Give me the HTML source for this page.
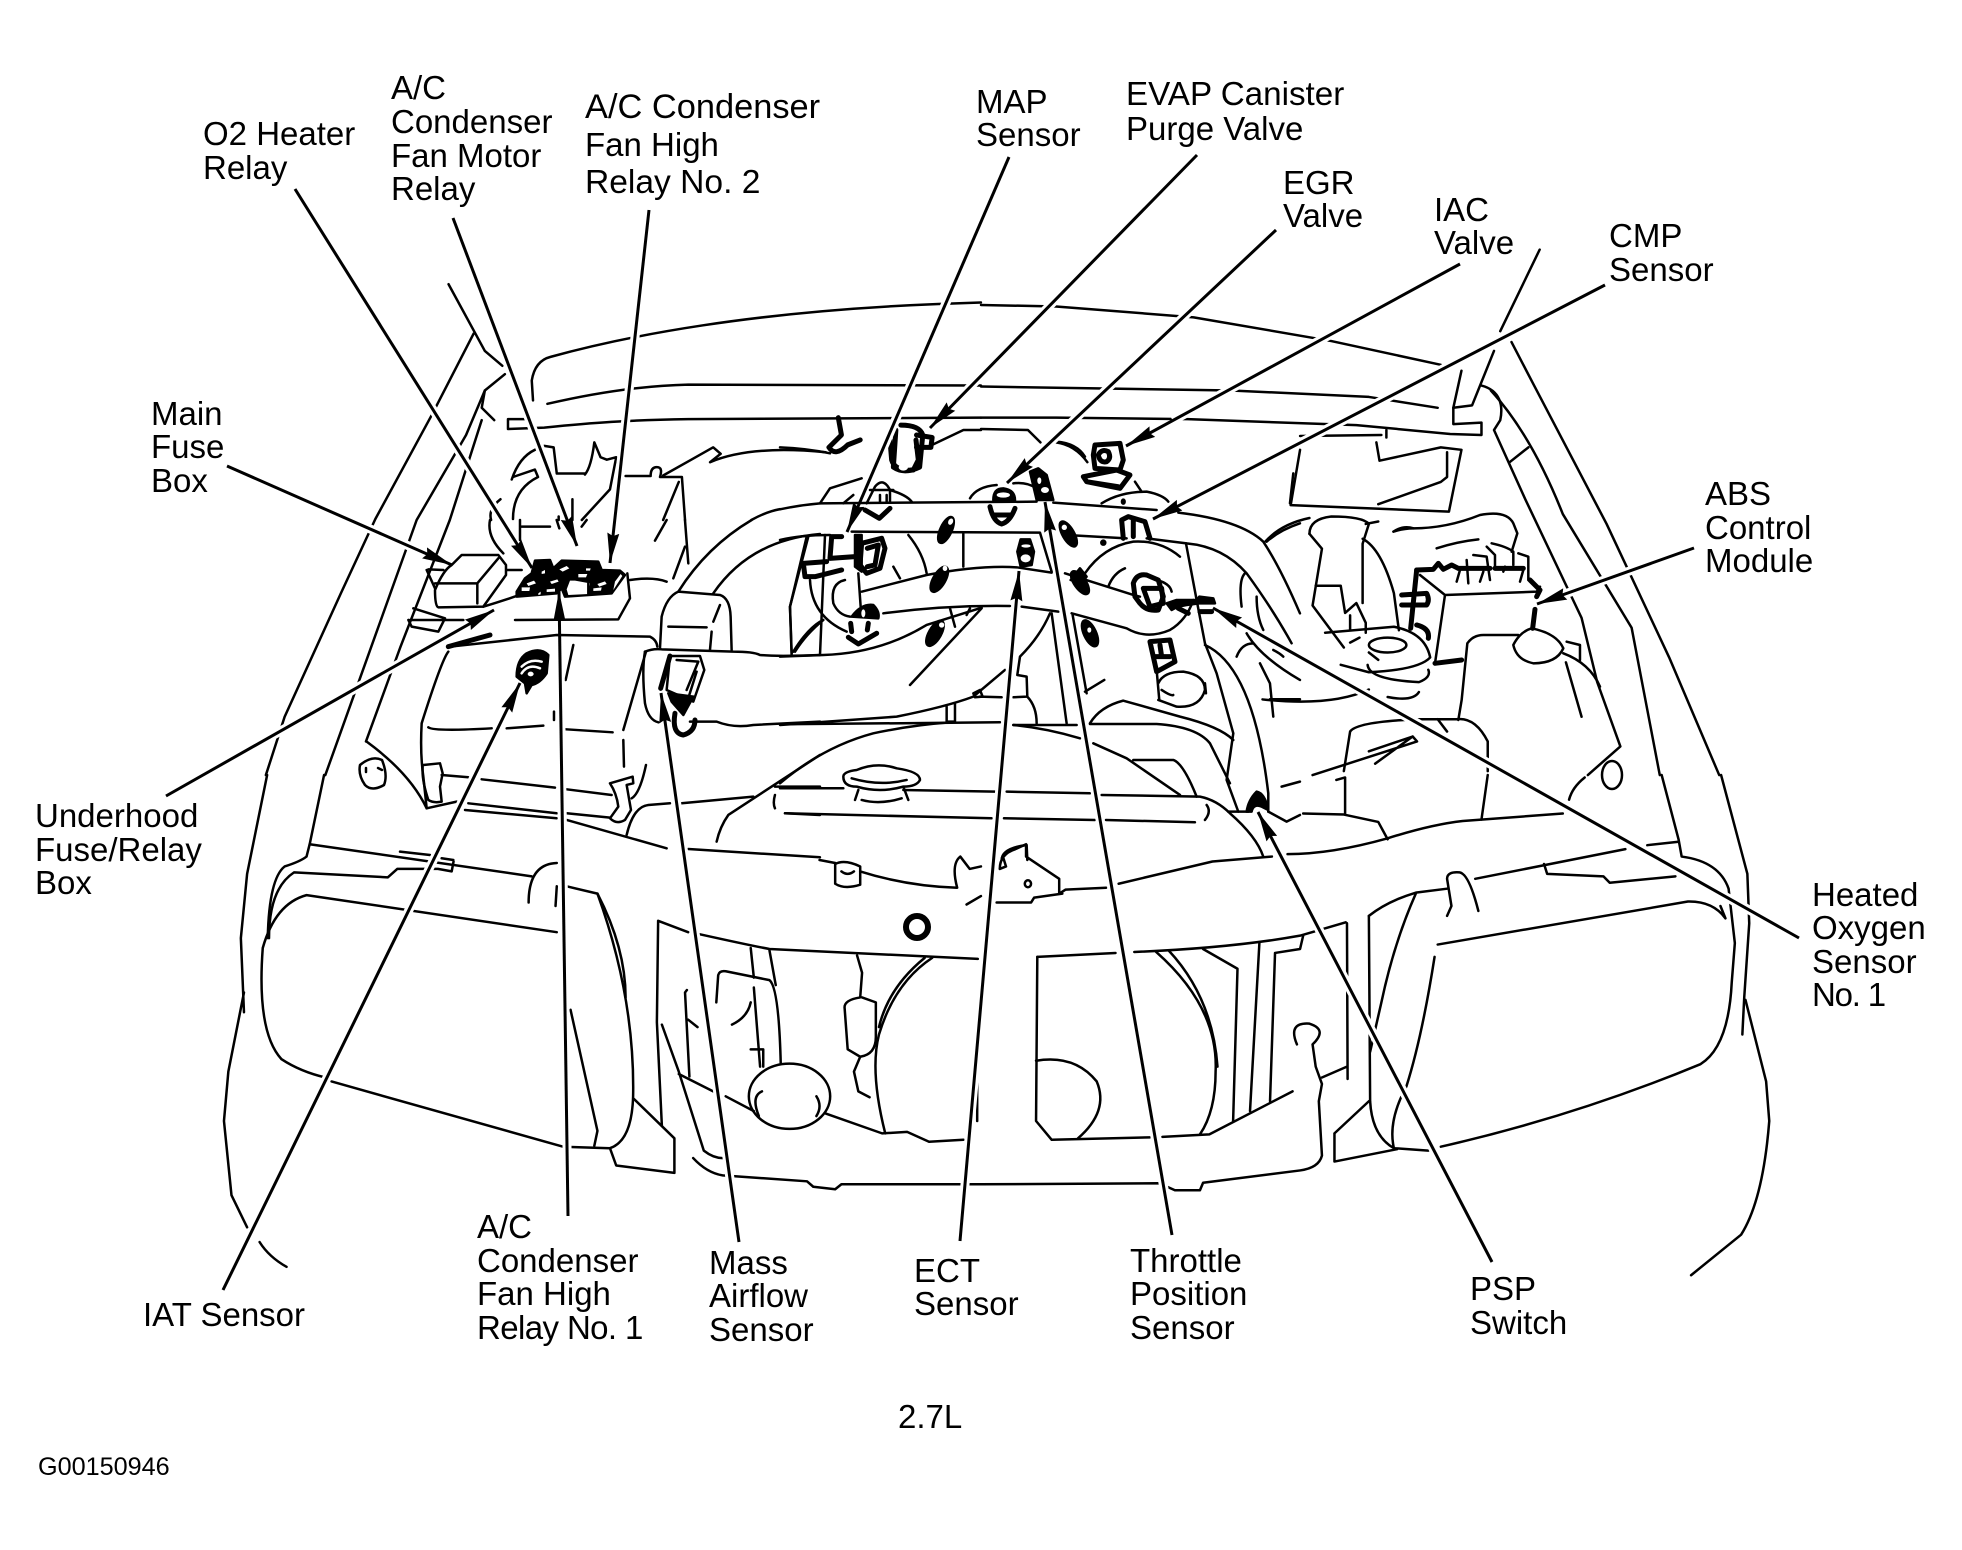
<!DOCTYPE html>
<html><head><meta charset="utf-8"><title>2.7L engine component locator</title>
<style>
html,body{margin:0;padding:0;background:#fff;width:1962px;height:1550px;overflow:hidden}
svg{display:block}
.d path,.d ellipse,.d circle{fill:none;stroke:#000;stroke-width:2.5;stroke-linecap:round;stroke-linejoin:round;vector-effect:non-scaling-stroke}
.d .k{fill:#000}
.d .w{fill:#fff;stroke:none}
.d .t{stroke-width:5}
.h line{stroke:#fff;stroke-width:9;stroke-dasharray:.86 1}
.l line{stroke:#000;stroke-width:3;marker-end:url(#a)}
text{font-family:"Liberation Sans",Arial,sans-serif;font-size:33px;fill:#000}
</style></head><body>
<svg width="1962" height="1550" viewBox="0 0 1962 1550" xmlns="http://www.w3.org/2000/svg">
<defs><marker id="a" markerUnits="userSpaceOnUse" markerWidth="34" markerHeight="16" refX="30" refY="8" orient="auto"><path d="M0,2 L30,8 L0,14 L3,8 Z" fill="#000"/></marker></defs>
<rect width="1962" height="1550" fill="#fff"/>

<!-- top-left quadrant -->
<g class="d" transform="scale(.6256,.4943)">
<path d="M757,675 L690,840 L600,1050 L545,1200 L455,1450 L425,1568"/>
<path d="M717,575 L775,710 L803,740"/>
<path d="M807,757 L775,790 L770,825 L790,850"/>
<path d="M775,790 L745,880 L666,1052 L610,1250 L520,1568"/>
<path d="M770,850 L719,1052 L640,1309 L585,1500"/>
<path d="M852,810 L850,770 Q855,730 880,722 C1000,680 1200,630 1500,615 L1568,612"/>
<path d="M875,817 C950,795 1030,780 1100,778 L1568,780"/>
<path d="M812,868 L812,848 L840,848 M812,868 L870,865 C950,855 1000,850 1100,848 L1568,845"/>
<path d="M818,970 Q830,925 855,910 L870,902 L885,905 L890,958 L935,958"/>
<path d="M820,1050 Q820,990 860,965 L855,950 L820,965"/>
<path d="M785,1052 Q780,1030 800,1010"/>
<path d="M935,960 Q945,945 950,895 L960,925 L970,930 L985,925 L975,990 L930,1052"/>
<path d="M915,1010 L915,1052 M893,1045 L893,1052"/>
<path d="M1000,963 L1040,963 Q1040,945 1050,945 Q1060,945 1055,965 L1090,965 L1095,1052"/>
<path d="M1085,975 L1060,1052"/>
<path d="M1060,962 L1105,930 L1140,905 L1152,918 L1135,935 Q1200,900 1320,915"/>
<path class="t" d="M1340,845 L1345,880 L1325,905 Q1335,925 1355,900 L1375,890"/>
<path d="M1201,1052 Q1225,1035 1247,1030"/>
<path class="t" d="M1432,870 L1428,945 Q1445,960 1470,945 L1475,880 Q1470,860 1440,860"/>
<path class="t" d="M1465,880 L1490,885 L1488,905 L1465,905"/>
<path d="M1490,900 L1540,870 L1568,870"/>
</g>

<!-- top-right quadrant -->
<g class="d" transform="translate(981,0) scale(.6256,.4943)">
<path d="M0,617 L120,620 L340,642 L560,690 L735,738"/>
<path d="M0,782 L400,790 L620,803 L730,825"/>
<path d="M0,845 L120,845 L330,848 L600,860 L750,878 L800,880 L800,855 L755,858 L755,825 L768,750"/>
<path d="M893,505 L830,670 M820,710 L785,820 L755,825"/>
<path d="M800,780 C830,790 835,820 830,850 L820,870 L870,1010 L960,1250 L985,1380 L1022,1510 L970,1568"/>
<path d="M848,692 L880,770 L1000,1060 L1100,1330 L1180,1568"/>
<path d="M815,790 Q880,880 930,1040 L1040,1270 L1085,1568"/>
<path d="M845,935 L875,905"/>
<path d="M0,868 L75,870 L95,895 M120,895 Q150,900 170,935"/>
<path d="M510,910 L495,1022 L748,1035 L768,910 L735,905 L637,932 L632,895"/>
<path d="M745,915 L745,965 L735,975 L635,1020 M510,882 L640,880 M648,870 L648,885"/>
<path d="M525,1080 Q525,1050 560,1045 Q610,1045 620,1060 L610,1100 L610,1220"/>
<path d="M525,1080 L545,1110 L530,1225 L580,1310"/>
<path d="M535,1185 L575,1185 L582,1240 L600,1220 L615,1260 L615,1280 M590,1245 L590,1275"/>
<path d="M615,1060 L635,1055 M610,1090 Q640,1110 660,1200 L668,1275"/>
<path d="M455,1095 Q480,1060 525,1048"/>
<ellipse cx="650" cy="1305" rx="30" ry="15"/>
<path d="M550,1280 L660,1268 Q710,1280 718,1330 Q700,1355 620,1360 L575,1345"/>
<path d="M618,1345 Q620,1375 700,1380 Q720,1370 715,1355 M590,1300 L605,1290 M620,1320 L635,1335"/>
<path d="M450,1415 Q560,1430 620,1395 M700,1400 Q690,1420 650,1410"/>
<path d="M935,1340 L960,1450"/>
<path d="M810,1560 L810,1500 Q790,1450 760,1455 L700,1455 Q600,1460 590,1480 L580,1560"/>
<path d="M530,1568 L697,1500 L690,1490 L620,1520 M690,1490 L630,1545 M730,1455 L745,1480"/>
</g>

<!-- ABS module detail -->
<g class="d" transform="translate(1380,500) scale(.3333)">
<path class="k" d="M40,95 Q70,75 100,85 Q70,85 40,95 Z"/>
<path d="M100,85 Q200,85 300,45 Q380,30 400,70 L412,100 L395,155"/>
<path d="M170,145 Q230,125 295,118"/>
<path class="t" d="M110,210 L160,208 L175,190 L190,208 L215,195 L235,205 L330,205 M345,205 L430,205"/>
<path class="t" d="M110,210 L92,385 M65,285 L140,280 Q150,300 140,315 L65,315 M110,375 Q150,385 145,415"/>
<path d="M120,225 L195,285 L470,275 L480,260 M195,285 L165,490"/>
<path class="t" d="M165,490 L245,480 M465,328 L458,385 M450,240 L480,270 L470,290"/>
<path d="M400,435 Q420,395 455,385 Q530,400 550,445 Q530,490 460,490 Q410,480 400,435 Z"/>
<path d="M235,660 L245,600 L262,430 Q280,405 310,405 L415,405"/>
<path d="M550,460 Q630,490 660,560 M560,425 L600,435 L600,480"/>
<path d="M320,140 L345,165 L345,200 M335,130 Q380,140 400,155 L400,195 M280,165 L320,170 L330,240"/>
<path d="M415,160 L445,170 L445,240 M260,180 L265,250 M230,245 L240,210 M300,245 L310,215 M420,245 L430,210 M370,215 L375,200"/>
</g>

<!-- bottom-left quadrant -->
<g class="d" transform="translate(0,775) scale(.6256,.4943)">
<path d="M427,0 L395,200 L385,330 L390,480"/>
<path d="M390,440 L365,600 L358,700 L370,850 L395,915"/>
<path d="M415,945 Q430,975 458,995"/>
<path d="M518,0 L495,140 L490,165 Q480,175 455,185 Q430,210 428,330"/>
<path d="M495,140 L850,205"/>
<path d="M430,330 Q430,230 470,197 L620,207 L635,190 L700,190 L722,195 L725,175"/>
<path d="M890,318 L490,243 Q440,260 420,350 Q410,520 450,575 Q480,600 520,612"/>
<path d="M530,620 L900,752 L975,755 Q1010,740 1012,650 Q1015,450 955,240 L905,225"/>
<path d="M955,240 Q1000,350 1000,450 M845,258 Q845,180 890,178 M888,265 L890,225"/>
<path d="M912,475 L955,720 L950,750"/>
<path d="M1013,655 L1078,735 L1078,805 L985,790 L975,755"/>
<path d="M1052,295 L1050,500 L1058,710 M1052,295 L1100,318 M1118,322 Q1200,345 1230,352 L1563,372"/>
<path d="M1058,505 L1085,600 L1125,760 Q1140,775 1155,775"/>
<path d="M1108,775 Q1130,805 1155,810 L1290,822 L1300,833 L1335,838 L1345,828 L1568,828"/>
<path d="M1085,605 L1140,640 M1160,650 L1205,680 M1320,685 L1410,725 L1450,722 L1485,742 L1540,738"/>
<ellipse cx="1262" cy="650" rx="65" ry="66"/>
<path d="M1213,690 Q1200,650 1218,640 M1305,690 Q1315,670 1305,650"/>
<path d="M1145,460 L1148,405 Q1150,395 1160,397 L1230,415 Q1245,430 1248,585"/>
<path d="M1170,505 Q1195,490 1200,460 M1205,430 L1215,590 M1200,555 L1220,555 L1220,590 M1200,350 L1205,410 M1230,355 L1240,425"/>
<path d="M1098,435 L1095,440 L1102,610 M1100,495 L1115,510"/>
<path d="M1370,365 L1378,400 L1375,450 Q1350,455 1350,470 L1355,555 L1375,570 Q1400,565 1400,530 L1400,460 L1378,450"/>
<path d="M1375,570 L1365,600 L1372,640 L1390,652"/>
<path d="M1490,370 Q1430,420 1405,525 Q1390,600 1415,725 M1478,370 Q1420,430 1405,510"/>
<path d="M1310,172 L1335,178"/>
<path d="M1335,180 L1335,220 Q1350,232 1375,222 L1375,185 Q1350,170 1335,180"/>
<path d="M1345,195 Q1355,205 1365,195 M1375,195 Q1450,225 1530,228 M1530,228 Q1520,180 1535,165 L1550,190 L1568,185 M1545,262 L1568,245"/>
<path d="M1562,600 L1562,700"/>
</g>

<!-- bottom-right quadrant -->
<g class="d" transform="translate(981,775) scale(.6256,.4943)">
<path d="M1088,0 L1115,130 L1120,165 Q1180,175 1195,230 L1205,340 L1200,420 Q1195,550 1150,585 Q950,690 735,752"/>
<path d="M1183,0 L1225,200 L1228,300 L1220,450 L1217,525"/>
<path d="M1222,455 L1255,620 L1260,700 Q1250,860 1215,930 L1135,1012"/>
<path d="M90,368 L88,700 L113,738 L270,733 M290,732 L365,727 L498,640"/>
<path d="M90,368 L215,360 M245,358 Q400,350 510,325 L583,298"/>
<path d="M88,578 Q150,565 185,620 Q205,680 155,735"/>
<path d="M280,358 Q380,470 375,600 Q375,680 350,727 M300,355 Q370,450 378,590"/>
<path d="M355,352 L410,392 L403,700 M445,340 L430,680 M470,360 L462,660 M470,360 L510,352 L515,325"/>
<path d="M505,545 Q490,500 525,503 Q555,515 530,545 L535,590 L545,625 L540,660 L545,770 Q540,795 510,800 L355,825 L350,840 L310,840 L285,826 L0,828"/>
<path d="M545,612 L585,590 M585,300 L586,615"/>
<path d="M620,285 L622,660 Q625,730 660,755 L715,760"/>
<path d="M620,285 Q650,255 695,238 L745,230 M695,240 Q660,340 640,460 L622,560"/>
<path d="M680,630 Q650,700 660,755 M725,368 Q705,530 680,630"/>
<path d="M565,725 L620,660 M565,725 L565,782 L665,757"/>
<path d="M730,343 L1130,256 Q1170,255 1190,290 L1182,265"/>
<path d="M790,210 L1030,150 M1065,142 L1115,135"/>
<path d="M745,285 L752,265 L745,210 Q745,195 765,197 Q780,200 795,275"/>
<path d="M900,180 L905,200 L995,205 L1005,218 L1110,205"/>
<path d="M515,78 L580,80 L635,95 L650,130 M568,10 L582,5 L582,80 M810,0 L800,90"/>
<path d="M220,220 L370,175 L465,165 M490,160 Q560,160 650,128 Q720,100 770,93 L930,78"/>
<path d="M30,190 Q30,160 55,150 L72,140 L72,165 L125,210 L125,240 L135,232 L200,228 M25,258 L80,258 L85,248 L130,240 M35,165 L40,185 L30,190"/>
<ellipse cx="75" cy="220" rx="5" ry="7"/>
<path d="M965,5 Q945,25 940,50"/>
</g>

<!-- round clips -->
<g class="d">
<path d="M360,765 Q372,755 382,760 Q388,775 384,785 Q372,792 365,785 Q358,775 360,765 Z"/>
<path d="M366,768 L366,772 M378,768 L382,770"/>
<ellipse cx="1612" cy="775" rx="10" ry="14"/>
</g>

<!-- left-centre detail -->
<g class="d" transform="translate(400,520) scale(.3333)">
<path d="M-100,665 Q30,760 80,865"/>
<path d="M105,210 Q130,150 155,135 L185,105 L295,105 L318,135 L318,165 L250,260 L115,262 Q105,260 105,210 Z"/>
<path d="M105,190 L232,190 L295,115 M232,190 L232,250 M85,148 L130,150 M80,150 L105,205"/>
<path d="M30,300 L190,300 M40,265 L135,295 L115,335 L35,320 L25,300"/>
<path d="M250,260 Q300,245 350,228 M345,300 L655,298 L690,235 L682,160 M690,180 Q760,170 800,185 M320,150 L365,150"/>
<path d="M735,395 Q760,385 785,388 L1000,395 Q1060,395 1080,405 Q1130,410 1260,405"/>
<path d="M150,380 L470,345 L750,350 Q770,360 772,380"/>
<path class="t" d="M145,380 L270,345"/>
<path d="M145,395 Q125,420 65,610 Q60,700 70,770 L80,865 L170,845"/>
<path d="M85,622 Q100,635 275,625 M320,625 L430,617 M498,628 L638,637"/>
<path d="M780,385 L785,290 Q800,230 835,215 L960,225 Q990,235 992,290 L995,390 M805,320 L920,322 M960,255 L940,305 M935,335 L930,390"/>
<path d="M835,215 Q920,80 1055,0 M940,220 Q1050,60 1260,42 M1225,50 L1170,260 L1175,405 M1180,395 Q1220,330 1260,305"/>
<path d="M855,0 L865,130 M820,175 L855,80 M800,0 L765,62"/>
<path d="M270,0 Q260,50 310,100 M360,0 L360,60 M365,20 L450,20 M470,0 L478,25 M545,20 L560,0"/>
<path d="M735,395 Q725,450 735,550 Q745,600 775,607 M738,395 L670,630 M670,660 L672,740 M520,375 L497,480 M462,575 L462,600"/>
<path d="M810,408 L900,408 L913,450 L880,545 L800,510 Z M830,420 L895,425 L860,510 M890,455 L868,525"/>
<path class="t" d="M810,408 L782,505"/>
<path class="k" d="M805,520 L880,530 L850,585 L815,545 Z"/>
<path class="t" d="M825,580 Q815,640 850,645 Q885,635 885,600"/>
<path d="M870,605 L950,605 Q1000,625 1060,615 L1260,605"/>
<path class="k" d="M350,470 Q350,420 380,400 Q420,380 445,405 L440,460 Q420,490 395,495 L380,520 L375,490 Z"/>
<path style="stroke:#fff" d="M365,440 Q390,415 425,425 M365,460 Q385,430 420,445"/>
<ellipse class="w" cx="392" cy="462" rx="9" ry="7"/>
<path d="M70,735 L120,730 L128,760 L120,800 L125,845 Q100,850 85,840 Q65,780 68,740"/>
<path d="M125,765 L205,772 M245,778 L465,803 M500,808 L635,825"/>
<path d="M205,850 L470,880 M195,870 L470,895 M500,880 L630,893 M500,900 L800,985 M865,987 L1260,1012"/>
<path d="M630,790 L698,770 L700,790 L680,795 L693,870 L675,900 Q650,915 630,895 L655,860 Q650,820 630,790 Z"/>
<path d="M738,735 Q720,820 695,835 M680,945 Q700,860 745,855 L810,850 M845,850 L1060,830"/>
<path d="M950,965 Q960,920 985,885 L1260,705 M1125,825 Q1118,850 1125,865 M1155,880 L1260,885 M1125,800 L1260,800"/>
<path d="M0,995 L90,1005 M125,1015 L160,1020"/>
</g>

<!-- relay block detail -->
<g class="d" transform="translate(500,540) scale(.3333)">
<path class="k" d="M50,155 L75,115 L95,100 L105,62 L150,60 L160,85 L185,62 L295,65 L305,90 L360,92 L375,105 L335,160 L195,170 L185,145 L170,160 L50,170 Z"/>
<path class="w" d="M345,125 L362,102 L367,108 L340,150 Z"/>
<path class="w" d="M65,142 L90,142 L88,153 L65,153 Z M80,130 L102,122 L108,130 L85,138 Z M140,148 L165,146 L165,155 L140,156 Z M150,125 L172,118 L176,125 L155,132 Z M178,88 L200,78 L208,85 L188,95 Z M235,102 L262,102 L258,112 L235,112 Z M280,145 L305,142 L303,152 L280,153 Z M292,132 L315,124 L320,132 L298,140 Z M258,85 L272,85 L270,92 L258,92 Z M125,95 L135,90 L135,100 L125,102 Z M115,160 L122,155 L122,163 L115,165 Z M200,148 L210,122 L225,122 L270,130 L265,162 L205,165 Z"/>
<path d="M265,130 L265,162"/>
</g>

<!-- engine-centre detail -->
<g class="d" transform="translate(780,440) scale(.3333)">
<path d="M0,208 Q60,195 120,190 L770,185 M820,188 L1130,210"/>
<path d="M1195,218 Q1380,240 1450,305 Q1500,380 1560,520"/>
<path d="M1100,295 L1220,310 Q1330,320 1400,400 Q1480,510 1535,610"/>
<path d="M0,300 Q60,285 150,285 M215,275 L780,278 L815,395 M860,285 L1040,295"/>
<path d="M0,650 L130,645 Q300,640 440,555 L605,503 M390,735 L605,505"/>
<path d="M245,455 L440,405 Q600,375 710,382 L815,398 M855,400 L1060,465 L1080,470"/>
<path d="M340,380 L360,415 M385,285 Q430,340 440,400 M550,282 L550,380"/>
<path d="M310,520 Q500,495 690,498 M725,500 L835,515 M875,520 L1040,565 Q1100,600 1170,570 Q1220,540 1240,480"/>
<path d="M90,420 Q95,530 200,575 M195,420 Q150,430 160,490 Q175,525 210,530 M235,400 L242,500"/>
<path d="M135,285 L120,645 M80,290 L30,500 L35,640 M45,635 Q80,580 130,540"/>
<path d="M510,505 L525,560 M560,525 L570,505"/>
<path d="M915,400 Q970,320 1060,305 Q1140,300 1200,350 M985,440 Q1000,400 1035,385 M1130,420 Q1170,430 1175,455"/>
<path d="M1218,310 L1250,480 L1275,610 L1310,700 L1360,880 L1340,1020 L1375,1115"/>
<path d="M1275,615 Q1420,680 1465,1060 L1465,1115"/>
<path d="M1385,500 Q1375,420 1395,400 M1430,470 Q1430,530 1450,570 M1400,580 Q1440,650 1560,720 M1370,650 Q1385,610 1420,610"/>
<path d="M1440,670 L1470,730 L1480,830 M1470,778 L1560,778 M1480,630 Q1500,640 1510,650 M1460,305 Q1500,270 1560,250 M1530,190 L1540,100"/>
<path d="M815,520 L860,850 M878,525 L920,760 M915,755 L973,720"/>
<path d="M810,520 Q780,590 720,650 L712,705 L740,710 L742,770 Q770,800 770,850 M700,772 L740,770"/>
<path d="M675,690 L580,770 Q500,800 350,830 L0,855 M600,770 L665,772 M500,800 L500,845 L525,845 L525,790"/>
<path d="M0,853 L660,847 M700,855 L890,855 M930,852 L1130,852 Q1250,860 1290,910 L1350,1030"/>
<path d="M930,850 Q960,800 1030,782 L1200,830 Q1320,860 1360,900"/>
<path d="M700,855 Q800,865 900,895 M940,910 L1040,955 L1200,1065 M1060,960 L1180,960 Q1210,970 1250,1070"/>
<path d="M0,1030 Q130,920 280,880 Q400,855 500,848"/>
<path d="M190,1010 Q190,995 230,990 Q290,965 350,985 Q420,995 420,1020 Q410,1040 370,1040 Q300,1060 230,1040 Q190,1040 190,1010 Z"/>
<path d="M215,1015 Q300,1040 380,1020 M235,1050 L225,1080 M370,1040 L385,1080 M245,1080 Q300,1095 365,1075"/>
<path d="M0,1045 L190,1045 M370,1050 L645,1055 M680,1055 L930,1060 M965,1065 L1260,1070 Q1310,1080 1350,1120 Q1430,1190 1450,1250"/>
<path d="M15,1120 L635,1135 M672,1135 L945,1140 M978,1140 L1245,1147 M1280,1095 Q1295,1115 1275,1140"/>
<path d="M1345,1115 L1405,1115 M1465,1115 L1520,1145 L1560,1125 M1505,1040 L1560,1025"/>
<path d="M665,1260 Q665,1225 740,1215 L742,1260"/>
<path class="k" d="M1400,1115 Q1405,1080 1430,1055 Q1455,1060 1465,1110 L1445,1100 Q1420,1090 1415,1115 Z"/>
<path d="M0,22 Q80,25 150,40 M830,5 Q890,10 915,50 M570,175 Q590,140 650,135 M700,130 Q740,125 770,145"/>
<path d="M965,190 Q1020,155 1100,155 Q1150,165 1165,185 M1065,125 L1085,155"/>
<path d="M120,190 L150,145 L245,115 M190,190 L220,165 M395,185 Q380,165 330,150"/>
<path d="M260,190 L285,140 Q310,110 330,150 L330,185 M270,150 L340,150 M300,165 L300,185 M320,165 L320,185"/>
<path class="t" d="M255,210 L298,235 L330,205"/>
<!-- fasteners -->
<ellipse class="k" cx="498" cy="270" rx="17" ry="42" transform="rotate(25 498 270)"/><ellipse class="w" cx="512" cy="245" rx="7" ry="10" transform="rotate(25 512 245)"/>
<ellipse class="k" cx="478" cy="418" rx="18" ry="42" transform="rotate(30 478 418)"/><ellipse class="w" cx="495" cy="385" rx="7" ry="8"/>
<ellipse class="k" cx="465" cy="580" rx="18" ry="42" transform="rotate(30 465 580)"/><ellipse class="w" cx="485" cy="555" rx="8" ry="8"/>
<ellipse class="k" cx="865" cy="282" rx="17" ry="42" transform="rotate(-30 865 282)"/><ellipse class="w" cx="853" cy="262" rx="8" ry="8"/>
<ellipse class="k" cx="900" cy="428" rx="17" ry="40" transform="rotate(-35 900 428)"/>
<ellipse class="k" cx="930" cy="580" rx="18" ry="42" transform="rotate(-25 930 580)"/><ellipse class="w" cx="928" cy="570" rx="6" ry="8"/>
<!-- MAP / TPS style connectors -->
<path class="t" d="M245,310 L305,295 L315,325 L300,385 L260,400 L240,375 Z M262,325 L295,315 L285,375 L262,380"/>
<path class="k" d="M225,285 L245,285 L245,395 L225,380 Z"/>
<path class="t" d="M185,290 L155,290 L150,355 L225,350 M70,370 L140,365 M70,370 L75,410 L105,410 L185,390"/>
<path class="k" d="M215,530 Q245,490 280,495 Q300,515 295,535 Z"/>
<ellipse class="w" cx="250" cy="520" rx="6" ry="12"/>
<path class="t" d="M212,550 L215,575 M265,550 L262,570 M205,592 L235,612 L290,580"/>
<!-- EVAP valve -->
<path class="t" d="M330,0 L335,60 Q345,95 400,90 L415,60 L408,0"/>
<ellipse class="w" cx="370" cy="82" rx="14" ry="10"/>
<!-- EGR -->
<path class="k" d="M640,180 Q640,145 670,145 Q705,150 705,180 Z"/>
<ellipse class="w" cx="670" cy="165" rx="20" ry="8"/>
<path class="t" d="M630,200 Q640,245 665,252 Q690,245 705,205 M640,225 L695,225"/>
<!-- Throttle-pos -->
<path class="k" d="M750,95 L775,85 L800,105 L820,180 L770,180 Z"/>
<ellipse class="w" cx="795" cy="150" rx="12" ry="9"/><ellipse class="w" cx="778" cy="122" rx="6" ry="10"/>
<!-- ECT -->
<path class="k" d="M712,335 L722,298 L750,298 L762,335 L755,375 L722,380 Z"/>
<ellipse class="w" cx="737" cy="355" rx="15" ry="12"/><ellipse class="w" cx="738" cy="318" rx="14" ry="5"/>
<!-- IAC -->
<path class="t" d="M940,45 L945,15 L1020,10 L1030,60 L1020,90 L945,85 Z M910,110 L1010,90 L1050,105 L1020,145 L920,125 Z M920,125 L1015,140 M955,45 Q965,25 985,35 Q995,55 980,65 Q960,70 955,45"/>
<!-- CMP -->
<path class="t" d="M1030,295 L1025,240 L1045,230 L1095,245 L1110,295 M1060,240 L1060,290"/>
<!-- rail sensor -->
<path class="t" d="M1060,430 Q1070,400 1100,405 L1135,420 L1150,470 L1135,510 Q1100,515 1080,490 L1065,470 Z"/>
<path class="t" d="M1090,445 L1145,445 L1150,490 L1110,500 Z"/>
<!-- O2 -->
<path class="k" d="M1160,490 L1190,480 L1250,480 L1258,470 L1300,475 L1305,490 L1260,490 L1220,495 Q1190,500 1175,510 Z"/>
<path class="t" d="M1260,515 L1295,515 M1195,505 L1225,520"/>
<!-- lower rect + cap -->
<path class="t" d="M1110,605 L1170,600 L1185,665 L1130,695 Z M1125,650 L1170,650 M1140,615 L1145,650"/>
<path d="M1135,730 Q1150,695 1210,695 Q1275,705 1275,750 Q1260,805 1190,800 L1135,780 M1145,750 Q1175,770 1180,765 M1130,690 L1138,780 M1275,730 L1278,760"/>
<path d="M580,760 L600,750 L608,770 L585,772 Z"/>
<path class="k" d="M872,420 L900,385 L920,410 L905,430 Z"/>
<ellipse class="k" cx="970" cy="308" rx="6" ry="6"/>
<ellipse class="k" cx="1030" cy="185" rx="4" ry="6"/>
</g>

<circle class="d" cx="917" cy="927" r="11" style="fill:none;stroke:#000;stroke-width:6"/>

<!-- leader halo -->
<g class="h">
<line pathLength="1" x1="295" y1="189" x2="532" y2="568"/>
<line pathLength="1" x1="453" y1="218" x2="577" y2="546"/>
<line pathLength="1" x1="649" y1="210" x2="610" y2="563"/>
<line pathLength="1" x1="227" y1="466" x2="452" y2="565"/>
<line pathLength="1" x1="1009" y1="157" x2="847" y2="532"/>
<line pathLength="1" x1="1197" y1="155" x2="930" y2="428"/>
<line pathLength="1" x1="1276" y1="230" x2="1007" y2="483"/>
<line pathLength="1" x1="1460" y1="264" x2="1126" y2="446"/>
<line pathLength="1" x1="1605" y1="285" x2="1153" y2="519"/>
<line pathLength="1" x1="1694" y1="548" x2="1537" y2="604"/>
<line pathLength="1" x1="1799" y1="938" x2="1213" y2="608"/>
<line pathLength="1" x1="1492" y1="1262" x2="1258" y2="812"/>
<line pathLength="1" x1="1172" y1="1235" x2="1045" y2="502"/>
<line pathLength="1" x1="960" y1="1241" x2="1019" y2="571"/>
<line pathLength="1" x1="739" y1="1242" x2="661" y2="693"/>
<line pathLength="1" x1="568" y1="1216" x2="559" y2="591"/>
<line pathLength="1" x1="223" y1="1290" x2="520" y2="683"/>
<line pathLength="1" x1="166" y1="796" x2="494" y2="610"/>
</g>
<!-- leaders -->
<g class="l">
<line x1="295" y1="189" x2="532" y2="568"/>
<line x1="453" y1="218" x2="577" y2="546"/>
<line x1="649" y1="210" x2="610" y2="563"/>
<line x1="227" y1="466" x2="452" y2="565"/>
<line x1="1009" y1="157" x2="847" y2="532"/>
<line x1="1197" y1="155" x2="930" y2="428"/>
<line x1="1276" y1="230" x2="1007" y2="483"/>
<line x1="1460" y1="264" x2="1126" y2="446"/>
<line x1="1605" y1="285" x2="1153" y2="519"/>
<line x1="1694" y1="548" x2="1537" y2="604"/>
<line x1="1799" y1="938" x2="1213" y2="608"/>
<line x1="1492" y1="1262" x2="1258" y2="812"/>
<line x1="1172" y1="1235" x2="1045" y2="502"/>
<line x1="960" y1="1241" x2="1019" y2="571"/>
<line x1="739" y1="1242" x2="661" y2="693"/>
<line x1="568" y1="1216" x2="559" y2="591"/>
<line x1="223" y1="1290" x2="520" y2="683"/>
<line x1="166" y1="796" x2="494" y2="610"/>
</g>

<!-- labels -->
<text x="203" y="145">O2 Heater</text><text x="203" y="179">Relay</text>
<text x="391" y="99">A/C</text><text x="391" y="133">Condenser</text><text x="391" y="167">Fan Motor</text><text x="391" y="200">Relay</text>
<text x="585" y="118" style="font-size:34.4px">A/C Condenser</text><text x="585" y="156">Fan High</text><text x="585" y="193" style="font-size:33.6px">Relay No. 2</text>
<text x="151" y="425">Main</text><text x="151" y="458">Fuse</text><text x="151" y="492">Box</text>
<text x="976" y="113">MAP</text><text x="976" y="146">Sensor</text>
<text x="1126" y="105" style="font-size:33.2px">EVAP Canister</text><text x="1126" y="140">Purge Valve</text>
<text x="1283" y="194">EGR</text><text x="1283" y="227">Valve</text>
<text x="1434" y="221">IAC</text><text x="1434" y="254">Valve</text>
<text x="1609" y="247">CMP</text><text x="1609" y="281">Sensor</text>
<text x="1705" y="505">ABS</text><text x="1705" y="539">Control</text><text x="1705" y="572">Module</text>
<text x="35" y="827">Underhood</text><text x="35" y="861">Fuse/Relay</text><text x="35" y="894">Box</text>
<text x="1812" y="906">Heated</text><text x="1812" y="939">Oxygen</text><text x="1812" y="973">Sensor</text><text x="1812" y="1006" style="letter-spacing:-1.2px">No. 1</text>
<text x="143" y="1326">IAT Sensor</text>
<text x="477" y="1238">A/C</text><text x="477" y="1272">Condenser</text><text x="477" y="1305">Fan High</text><text x="477" y="1339" style="letter-spacing:-.6px">Relay No. 1</text>
<text x="709" y="1274">Mass</text><text x="709" y="1307">Airflow</text><text x="709" y="1341">Sensor</text>
<text x="914" y="1282">ECT</text><text x="914" y="1315">Sensor</text>
<text x="1130" y="1272">Throttle</text><text x="1130" y="1305">Position</text><text x="1130" y="1339">Sensor</text>
<text x="1470" y="1300">PSP</text><text x="1470" y="1334">Switch</text>
<text x="898" y="1428">2.7L</text>
<text x="38" y="1475" style="font-size:25.2px">G00150946</text>
</svg>
</body></html>
